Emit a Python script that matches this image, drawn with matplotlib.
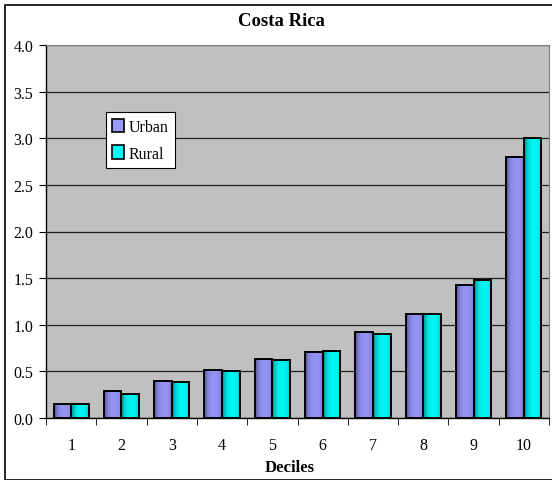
import matplotlib
matplotlib.use("Agg")
import matplotlib.pyplot as plt
import numpy as np
from matplotlib.patches import Rectangle

deciles = ["1", "2", "3", "4", "5", "6", "7", "8", "9", "10"]
urban = [0.15, 0.29, 0.40, 0.51, 0.63, 0.71, 0.92, 1.11, 1.43, 2.80]
rural = [0.15, 0.26, 0.39, 0.50, 0.62, 0.72, 0.90, 1.12, 1.48, 3.00]

plt.rcParams["font.family"] = ["Liberation Serif", "DejaVu Serif"]

fig = plt.figure(figsize=(5.52, 4.81), dpi=100)
ax = fig.add_axes([46 / 552, 1 - 419 / 481, 503 / 552, 373 / 481])
ax.set_facecolor("#C0C0C0")

# outer chart frame (right side runs off the picture)
fig.patches.append(Rectangle((5 / 552, 0.5 / 481), 560 / 552, 475 / 481,
                             transform=fig.transFigure, fill=False,
                             edgecolor="black", linewidth=1.2))

x = np.arange(len(deciles))
w = 0.35


def shade(bars, base, dark):
    # horizontal gradient to mimic the Excel bar shading
    g = np.linspace(0, 1, 64)
    prof = 1 - 0.8 * np.exp(-g / 0.18) - 0.35 * np.exp(-(1 - g) / 0.15)
    b = np.array(matplotlib.colors.to_rgb(base))
    d = np.array(matplotlib.colors.to_rgb(dark))
    img = np.clip(d[None, :] + (b - d)[None, :] * prof[:, None], 0, 1)[None, :, :]
    for bar in bars:
        x0, y0 = bar.get_x(), bar.get_y()
        im = ax.imshow(img, extent=[x0, x0 + bar.get_width(), y0, y0 + bar.get_height()],
                       aspect="auto", zorder=2.5, interpolation="bilinear")
        im.set_clip_path(bar)


b1 = ax.bar(x - w / 2, urban, w, color="#9999FF", edgecolor="black", linewidth=1.4,
            label="Urban", zorder=3)
b2 = ax.bar(x + w / 2, rural, w, color="#00FFFF", edgecolor="black", linewidth=1.4,
            label="Rural", zorder=3)
shade(b1, "#9999FF", "#33335A")
shade(b2, "#00FFFF", "#004848")
for bar in list(b1) + list(b2):
    bar.set_facecolor("none")

ax.set_xlim(-0.5, len(deciles) - 0.5)
ax.set_ylim(0, 4.0)
yt = np.arange(0, 4.01, 0.5)
ax.set_yticks(yt)
ax.set_yticklabels([f"{v:.1f}" for v in yt], fontsize=11.5)
ax.set_xticks(x)
ax.set_xticklabels(deciles, fontsize=11.5)
ax.set_xticks(np.arange(-0.5, len(deciles), 1), minor=True)
ax.tick_params(axis="x", which="major", length=0, pad=14)
ax.tick_params(axis="x", which="minor", length=5, direction="out", color="black")
ax.tick_params(axis="y", length=5, direction="out", color="black", pad=4)
ax.yaxis.grid(True, color="#202020", linewidth=0.9)
ax.set_axisbelow(True)

for s in ["top", "right"]:
    ax.spines[s].set_color("#808080")
for s in ["left", "bottom"]:
    ax.spines[s].set_color("black")
    ax.spines[s].set_linewidth(1.0)

fig.text(281 / 552, 1 - 22 / 481, "Costa Rica", fontsize=13.5, fontweight="bold",
         ha="center", va="center")
fig.text(290 / 552, 1 - 468 / 481, "Deciles", fontsize=12, fontweight="bold",
         ha="center", va="center")

leg = ax.legend(loc="upper left", bbox_to_anchor=(0.119, 0.82), fontsize=11.5,
                fancybox=False, framealpha=1, edgecolor="black",
                handlelength=0.75, handleheight=0.95, handletextpad=0.3,
                borderpad=0.4, labelspacing=0.65, borderaxespad=0)
leg.get_frame().set_linewidth(0.8)
for h, c in zip(leg.legend_handles, ["#9999FF", "#00FFFF"]):
    h.set_facecolor(c)
    h.set_edgecolor("black")
    h.set_linewidth(1.2)

fig.savefig("out.png", dpi=100)
